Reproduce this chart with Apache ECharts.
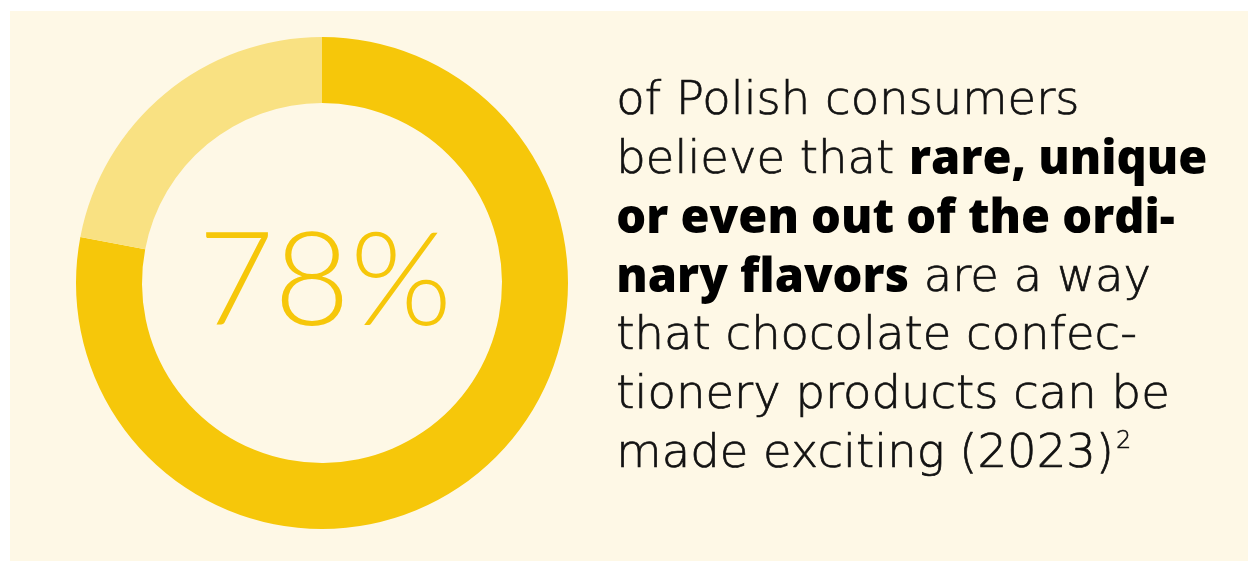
<!DOCTYPE html>
<html>
<head>
<meta charset="utf-8">
<style>
  html, body { margin: 0; padding: 0; background: #ffffff; }
  #chart { position: absolute; left: 10px; top: 11px; width: 1238px; height: 550px; background: #fef8e6; }
</style>
<script src="https://cdn.jsdelivr.net/npm/echarts@6/dist/echarts.min.js"></script>
</head>
<body>
<div id="chart"></div>
<script>
// Share of consumers (percent)
const categories = ['Agree', 'Other'];
const shares = [78, 22];
const sliceColors = ['#f6c70a', '#f9e182'];

// Statement lines; each entry is a list of [style, text] fragments
const statementLines = [
  [['n', 'of Polish consumers']],
  [['n', 'believe that '], ['b', 'rare, unique']],
  [['b', 'or even out of the ordi-']],
  [['b', 'nary flavors'], ['n', ' are a way']],
  [['n', 'that chocolate confec-']],
  [['n', 'tionery products can be']],
  [['n', 'made exciting (2023)'], ['sup', '2']]
];

const BIG_FONT = 'Lato, "Noto Sans", sans-serif';
const BODY_FONT = '"DejaVu Sans", "Open Sans", sans-serif';
const BOLD_FONT = '"Open Sans", Lato, sans-serif';

const richText = statementLines
  .map(line => line.map(([s, t]) => '{' + s + '|' + t + '}').join(''))
  .join('\n');

const chart = echarts.init(document.getElementById('chart'), null, { renderer: 'canvas' });

chart.setOption({
  backgroundColor: '#fef8e6',
  animation: false,
  series: [{
    type: 'pie',
    center: [312, 272],
    radius: [180, 246],
    startAngle: 90,
    clockwise: true,
    silent: true,
    label: { show: false },
    labelLine: { show: false },
    itemStyle: { borderWidth: 0 },
    data: categories.map((name, i) => ({
      name,
      value: shares[i],
      itemStyle: { color: sliceColors[i] }
    }))
  }],
  graphic: [
    {
      type: 'text',
      left: 312 - 124,
      top: 272 - 66,
      style: {
        text: shares[0] + '%',
        fill: '#f6c70a',
        font: '300 131px ' + BIG_FONT
      }
    },
    {
      type: 'text',
      left: 606,
      top: 62,
      style: {
        text: richText,
        fill: '#111111',
        lineHeight: 58.7,
        rich: {
          n: {
            fontFamily: BODY_FONT, fontWeight: 200, fontSize: 46.5, lineHeight: 58.7,
            fill: '#111111', stroke: '#111111', lineWidth: 0.7
          },
          b: { fontFamily: BOLD_FONT, fontWeight: 800, fontSize: 47, lineHeight: 58.7, fill: '#000000' },
          sup: {
            fontFamily: BODY_FONT, fontWeight: 200, fontSize: 24, lineHeight: 58.7,
            fill: '#111111', stroke: '#111111', lineWidth: 0.5,
            padding: [0, 0, 26, 2]
          }
        }
      }
    }
  ]
});
</script>
</body>
</html>
